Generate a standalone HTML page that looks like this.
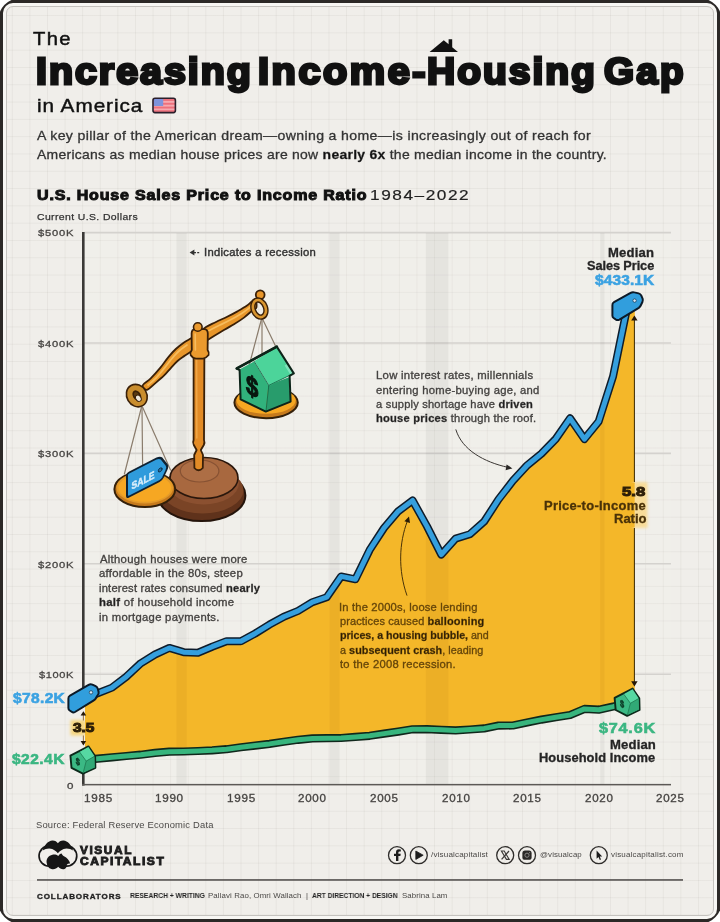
<!DOCTYPE html>
<html>
<head>
<meta charset="utf-8">
<title>The Increasing Income-Housing Gap in America</title>
<style>
html,body{margin:0;padding:0;}
body{width:720px;height:922px;overflow:hidden;background:#fff;font-family:"Liberation Sans",sans-serif;position:relative;}
#frame{position:absolute;left:0;top:0;width:720px;height:922px;}
#mat{position:absolute;left:2.8px;top:2.8px;width:714.4px;height:916.4px;background:#f7f6f3;border-radius:10px;}
#paper{position:absolute;left:6px;top:6px;width:707.6px;height:910px;box-sizing:border-box;border:1px solid #c4c2be;border-radius:7px;background-color:#f0eeea;
background-image:linear-gradient(to right,rgba(110,100,90,0.07) 1px,transparent 1px),linear-gradient(to bottom,rgba(110,100,90,0.07) 1px,transparent 1px);
background-size:17.6px 17.3px;background-position:4.8px 8.1px;}
.t{-webkit-font-smoothing:antialiased;will-change:transform;position:absolute;white-space:nowrap;line-height:1;color:#1a1a1a;transform-origin:0 0;}
.b{font-weight:bold;}
.ax{font-size:10.5px;color:#444;letter-spacing:0.7px;}
.ann{font-size:10.6px;color:#444;letter-spacing:0.35px;line-height:14.35px;white-space:nowrap;position:absolute;}
.ann b{color:#222;letter-spacing:0.1px;}
svg{position:absolute;left:0;top:0;}
</style>
</head>
<body>
<svg id="frame" width="720" height="922" viewBox="0 0 720 922"><path d="M0,11.5 Q3.6,3.6 11.5,0 H708.5 Q716.4,3.6 720,11.5 V910.5 Q716.4,918.4 708.5,922 H11.5 Q3.6,918.4 0,910.5 Z" fill="#2b2826"/></svg>
<div id="mat"></div>
<div id="paper"></div>

<!-- CHART -->
<svg id="chart" width="720" height="922" viewBox="0 0 720 922">
  <!-- plot area slightly lighter -->
  <rect x="84" y="232" width="587" height="553" fill="#f6f5f2" opacity="0.12"/>
  <!-- gridlines -->
  <g stroke="#d4d2ce" stroke-width="1.6">
    <line x1="84" y1="232.6" x2="671" y2="232.6"/>
    <line x1="84" y1="343" x2="671" y2="343"/>
    <line x1="84" y1="453.4" x2="671" y2="453.4"/>
    <line x1="84" y1="563.8" x2="671" y2="563.8"/>
    <line x1="84" y1="674.3" x2="671" y2="674.3"/>
  </g>
  <rect x="176.4" y="233" width="10.3" height="552" fill="#000" opacity="0.042"/><rect x="329.6" y="233" width="10.0" height="552" fill="#000" opacity="0.042"/><rect x="425.8" y="233" width="22.6" height="552" fill="#000" opacity="0.042"/><rect x="600.2" y="233" width="4.3" height="552" fill="#000" opacity="0.042"/>
  <!-- area fill -->
  <polygon points="83.4,698.4 97.7,693.3 112.0,687.6 126.3,676.7 140.7,663.3 155.0,654.5 169.3,647.9 183.6,652.2 197.9,652.8 212.2,646.7 226.6,641.2 240.9,641.2 255.2,633.5 269.5,624.6 283.8,616.7 298.1,610.9 312.4,602.2 326.8,597.2 341.1,576.4 355.4,579.3 369.7,549.9 384.0,528.0 398.3,511.2 412.6,500.5 427.0,526.4 441.3,554.6 455.6,538.6 469.9,534.2 484.2,521.5 498.5,499.4 512.9,480.8 527.2,465.3 541.5,453.6 555.8,438.9 570.1,418.3 584.4,439.1 598.7,421.4 613.1,376.3 627.4,306.4 634.8,306.4 634.8,702.4 627.4,702.4 613.1,706.6 598.7,709.7 584.4,708.9 570.1,715.0 555.8,717.3 541.5,719.6 527.2,722.4 512.9,725.5 498.5,725.6 484.2,728.4 469.9,729.5 455.6,730.4 441.3,729.8 427.0,729.2 412.6,729.3 398.3,731.6 384.0,733.6 369.7,735.8 355.4,736.9 341.1,738.0 326.8,738.2 312.4,738.4 298.1,739.8 283.8,741.8 269.5,743.9 255.2,745.6 240.9,747.2 226.6,749.2 212.2,750.3 197.9,751.0 183.6,751.5 169.3,751.7 155.0,752.9 140.7,754.7 126.3,756.0 112.0,757.3 97.7,758.7 83.4,760.0" fill="#f4b729"/>
  <clipPath id="fc"><polygon points="83.4,698.4 97.7,693.3 112.0,687.6 126.3,676.7 140.7,663.3 155.0,654.5 169.3,647.9 183.6,652.2 197.9,652.8 212.2,646.7 226.6,641.2 240.9,641.2 255.2,633.5 269.5,624.6 283.8,616.7 298.1,610.9 312.4,602.2 326.8,597.2 341.1,576.4 355.4,579.3 369.7,549.9 384.0,528.0 398.3,511.2 412.6,500.5 427.0,526.4 441.3,554.6 455.6,538.6 469.9,534.2 484.2,521.5 498.5,499.4 512.9,480.8 527.2,465.3 541.5,453.6 555.8,438.9 570.1,418.3 584.4,439.1 598.7,421.4 613.1,376.3 627.4,306.4 634.8,306.4 634.8,702.4 627.4,702.4 613.1,706.6 598.7,709.7 584.4,708.9 570.1,715.0 555.8,717.3 541.5,719.6 527.2,722.4 512.9,725.5 498.5,725.6 484.2,728.4 469.9,729.5 455.6,730.4 441.3,729.8 427.0,729.2 412.6,729.3 398.3,731.6 384.0,733.6 369.7,735.8 355.4,736.9 341.1,738.0 326.8,738.2 312.4,738.4 298.1,739.8 283.8,741.8 269.5,743.9 255.2,745.6 240.9,747.2 226.6,749.2 212.2,750.3 197.9,751.0 183.6,751.5 169.3,751.7 155.0,752.9 140.7,754.7 126.3,756.0 112.0,757.3 97.7,758.7 83.4,760.0"/></clipPath><g clip-path="url(#fc)"><rect x="176.4" y="233" width="10.3" height="552" fill="#5a3000" opacity="0.05"/><rect x="329.6" y="233" width="10.0" height="552" fill="#5a3000" opacity="0.05"/><rect x="425.8" y="233" width="22.6" height="552" fill="#5a3000" opacity="0.05"/><rect x="600.2" y="233" width="4.3" height="552" fill="#5a3000" opacity="0.05"/></g>
  <!-- income line -->
  <polyline points="83.4,760.0 97.7,758.7 112.0,757.3 126.3,756.0 140.7,754.7 155.0,752.9 169.3,751.7 183.6,751.5 197.9,751.0 212.2,750.3 226.6,749.2 240.9,747.2 255.2,745.6 269.5,743.9 283.8,741.8 298.1,739.8 312.4,738.4 326.8,738.2 341.1,738.0 355.4,736.9 369.7,735.8 384.0,733.6 398.3,731.6 412.6,729.3 427.0,729.2 441.3,729.8 455.6,730.4 469.9,729.5 484.2,728.4 498.5,725.6 512.9,725.5 527.2,722.4 541.5,719.6 555.8,717.3 570.1,715.0 584.4,708.9 598.7,709.7 613.1,706.6 627.4,702.4" fill="none" stroke="#10281c" stroke-width="8.2" stroke-linejoin="round" stroke-linecap="round"/>
  <polyline points="83.4,760.0 97.7,758.7 112.0,757.3 126.3,756.0 140.7,754.7 155.0,752.9 169.3,751.7 183.6,751.5 197.9,751.0 212.2,750.3 226.6,749.2 240.9,747.2 255.2,745.6 269.5,743.9 283.8,741.8 298.1,739.8 312.4,738.4 326.8,738.2 341.1,738.0 355.4,736.9 369.7,735.8 384.0,733.6 398.3,731.6 412.6,729.3 427.0,729.2 441.3,729.8 455.6,730.4 469.9,729.5 484.2,728.4 498.5,725.6 512.9,725.5 527.2,722.4 541.5,719.6 555.8,717.3 570.1,715.0 584.4,708.9 598.7,709.7 613.1,706.6 627.4,702.4" fill="none" stroke="#37b57d" stroke-width="5" stroke-linejoin="round" stroke-linecap="round"/>
  <!-- price line -->
  <polyline points="83.4,698.4 97.7,693.3 112.0,687.6 126.3,676.7 140.7,663.3 155.0,654.5 169.3,647.9 183.6,652.2 197.9,652.8 212.2,646.7 226.6,641.2 240.9,641.2 255.2,633.5 269.5,624.6 283.8,616.7 298.1,610.9 312.4,602.2 326.8,597.2 341.1,576.4 355.4,579.3 369.7,549.9 384.0,528.0 398.3,511.2 412.6,500.5 427.0,526.4 441.3,554.6 455.6,538.6 469.9,534.2 484.2,521.5 498.5,499.4 512.9,480.8 527.2,465.3 541.5,453.6 555.8,438.9 570.1,418.3 584.4,439.1 598.7,421.4 613.1,376.3 627.4,306.4" fill="none" stroke="#0e1c2b" stroke-width="8" stroke-linejoin="round" stroke-linecap="round"/>
  <polyline points="83.4,698.4 97.7,693.3 112.0,687.6 126.3,676.7 140.7,663.3 155.0,654.5 169.3,647.9 183.6,652.2 197.9,652.8 212.2,646.7 226.6,641.2 240.9,641.2 255.2,633.5 269.5,624.6 283.8,616.7 298.1,610.9 312.4,602.2 326.8,597.2 341.1,576.4 355.4,579.3 369.7,549.9 384.0,528.0 398.3,511.2 412.6,500.5 427.0,526.4 441.3,554.6 455.6,538.6 469.9,534.2 484.2,521.5 498.5,499.4 512.9,480.8 527.2,465.3 541.5,453.6 555.8,438.9 570.1,418.3 584.4,439.1 598.7,421.4 613.1,376.3 627.4,306.4" fill="none" stroke="#359fdd" stroke-width="5" stroke-linejoin="round" stroke-linecap="round"/>
  <!-- axes -->
  <rect x="82" y="232" width="2.6" height="553.6" fill="#3b3937"/>
  <rect x="82" y="783.9" width="589" height="1.5" fill="#5c5956"/>
  <!-- glow boxes behind ratio labels -->
<defs>
  <filter id="bl" x="-30%" y="-30%" width="160%" height="160%"><feGaussianBlur stdDeviation="1.4"/></filter>
</defs>
<rect x="81.4" y="706" width="3.8" height="46" fill="#f1eee9"/>
<rect x="85" y="706" width="1.2" height="46" fill="#f4b729"/>
<rect x="70.5" y="720" width="15" height="15.5" fill="#f6d680" filter="url(#bl)"/>
<rect x="85" y="720" width="11" height="15.5" fill="#f4b729"/>
<rect x="633" y="482" width="14.5" height="46" fill="#f8dc98" filter="url(#bl)"/>
<rect x="612" y="483" width="22.6" height="44" fill="#f4b729"/>

</svg>

<!-- TEXTS -->
<div class="t" id="the" style="left:33.00px;top:30.20px;font-size:18.2px;color:#111;-webkit-text-stroke:0.45px #111;letter-spacing:1.205px;transform:scaleX(1.1104);">The</div>
<div class="t" id="t1" style="left:35.71px;top:53.65px;font-size:36.2px;font-weight:bold;-webkit-text-stroke:2.8px #111;color:#111;letter-spacing:1.833px;transform:scaleX(1.0880);">Increasing</div>
<div class="t" id="t2" style="left:258.21px;top:53.65px;font-size:36.2px;font-weight:bold;-webkit-text-stroke:2.8px #111;color:#111;letter-spacing:2.325px;transform:scaleX(1.0969);">Income-</div>
<div class="t" id="t2b" style="left:426.74px;top:53.65px;font-size:36.2px;font-weight:bold;-webkit-text-stroke:2.8px #111;color:#111;letter-spacing:1.856px;transform:scaleX(1.0772);">Housing</div>
<div class="t" id="t3" style="left:604.34px;top:53.62px;font-size:36.2px;font-weight:bold;-webkit-text-stroke:2.8px #111;color:#111;letter-spacing:2.054px;transform:scaleX(1.0676);">Gap</div>
<div class="t" id="inam" style="left:36.74px;top:96.22px;font-size:19px;color:#111;-webkit-text-stroke:0.45px #111;letter-spacing:0.879px;transform:scaleX(1.0909);">in America</div>
<div class="t" id="sub1" style="left:36.95px;top:128.81px;font-size:13.4px;color:#333;-webkit-text-stroke:0.3px #333;letter-spacing:0.337px;transform:scaleX(1.0532);">A key pillar of the American dream—owning a home—is increasingly out of reach for</div>
<div class="t" id="sub2" style="left:36.96px;top:147.71px;font-size:13.4px;color:#333;-webkit-text-stroke:0.3px #333;letter-spacing:0.263px;transform:scaleX(1.0414);">Americans as median house prices are now <b style="color:#111">nearly 6x</b> the median income in the country.</div>
<div class="t" id="ct1" style="left:36.62px;top:187.81px;font-size:14.6px;font-weight:bold;-webkit-text-stroke:1px #111;color:#111;letter-spacing:0.749px;transform:scaleX(1.0977);">U.S. House Sales Price to Income Ratio</div>
<div class="t" id="ct2" style="left:369.97px;top:187.13px;font-size:15.2px;color:#222;-webkit-text-stroke:0.2px #222;letter-spacing:1.357px;transform:scaleX(1.1355);">1984–2022</div>
<div class="t" id="cur" style="left:37.20px;top:212.08px;font-size:9.6px;color:#333;-webkit-text-stroke:0.25px #333;letter-spacing:0.361px;transform:scaleX(1.0860);">Current U.S. Dollars</div>
<div class="t" id="y5" style="left:37.95px;top:228.12px;font-size:9.9px;color:#464442;-webkit-text-stroke:0.3px #464442;letter-spacing:0.691px;transform:scaleX(1.1317);">$500K</div>
<div class="t" id="y4" style="left:37.95px;top:339.07px;font-size:9.9px;color:#464442;-webkit-text-stroke:0.3px #464442;letter-spacing:0.691px;transform:scaleX(1.1317);">$400K</div>
<div class="t" id="y3" style="left:37.95px;top:449.02px;font-size:9.9px;color:#464442;-webkit-text-stroke:0.3px #464442;letter-spacing:0.691px;transform:scaleX(1.1317);">$300K</div>
<div class="t" id="y2" style="left:37.95px;top:559.65px;font-size:9.9px;color:#464442;-webkit-text-stroke:0.3px #464442;letter-spacing:0.691px;transform:scaleX(1.1317);">$200K</div>
<div class="t" id="y1" style="left:38.95px;top:669.96px;font-size:9.9px;color:#464442;-webkit-text-stroke:0.3px #464442;letter-spacing:0.566px;transform:scaleX(1.1142);">$100K</div>
<div class="t" id="y0" style="left:66.95px;top:780.58px;font-size:9.9px;color:#464442;-webkit-text-stroke:0.3px #464442;transform:scaleX(1.1699);">0</div>
<div class="t" id="x0" style="left:84.27px;top:793.81px;font-size:10.3px;color:#464442;-webkit-text-stroke:0.3px #464442;letter-spacing:0.617px;transform:scaleX(1.1378);">1985</div>
<div class="t" id="x1" style="left:155.02px;top:793.55px;font-size:10.3px;color:#464442;-webkit-text-stroke:0.3px #464442;letter-spacing:0.617px;transform:scaleX(1.1362);">1990</div>
<div class="t" id="x2" style="left:227.42px;top:793.58px;font-size:10.3px;color:#464442;-webkit-text-stroke:0.3px #464442;letter-spacing:0.617px;transform:scaleX(1.1378);">1995</div>
<div class="t" id="x3" style="left:298.33px;top:793.53px;font-size:10.3px;color:#464442;-webkit-text-stroke:0.3px #464442;letter-spacing:0.617px;transform:scaleX(1.1239);">2000</div>
<div class="t" id="x4" style="left:369.68px;top:793.56px;font-size:10.3px;color:#464442;-webkit-text-stroke:0.3px #464442;letter-spacing:0.617px;transform:scaleX(1.1236);">2005</div>
<div class="t" id="x5" style="left:442.14px;top:793.53px;font-size:10.3px;color:#464442;-webkit-text-stroke:0.3px #464442;letter-spacing:0.617px;transform:scaleX(1.1239);">2010</div>
<div class="t" id="x6" style="left:513.13px;top:793.56px;font-size:10.3px;color:#464442;-webkit-text-stroke:0.3px #464442;letter-spacing:0.617px;transform:scaleX(1.1236);">2015</div>
<div class="t" id="x7" style="left:585.29px;top:793.53px;font-size:10.3px;color:#464442;-webkit-text-stroke:0.3px #464442;letter-spacing:0.617px;transform:scaleX(1.1239);">2020</div>
<div class="t" id="x8" style="left:655.90px;top:793.55px;font-size:10.3px;color:#464442;-webkit-text-stroke:0.3px #464442;letter-spacing:0.617px;transform:scaleX(1.1236);">2025</div>
<div class="t" id="rec" style="left:204.37px;top:247.41px;font-size:10.5px;color:#333;-webkit-text-stroke:0.4px #333;letter-spacing:0.282px;transform:scaleX(1.0718);">Indicates a recession</div>
<div class="t" id="a11" style="left:99.93px;top:554.13px;font-size:10.7px;color:#444240;-webkit-text-stroke:0.32px #444240;letter-spacing:0.276px;transform:scaleX(1.0544);">Although houses were more</div>
<div class="t" id="a12" style="left:99.30px;top:568.34px;font-size:10.7px;color:#444240;-webkit-text-stroke:0.32px #444240;letter-spacing:0.259px;transform:scaleX(1.0585);">affordable in the 80s, steep</div>
<div class="t" id="a13" style="left:99.18px;top:582.62px;font-size:10.7px;color:#444240;-webkit-text-stroke:0.32px #444240;letter-spacing:0.196px;transform:scaleX(1.0434);">interest rates consumed <b style="color:#1d1d1d">nearly</b></div>
<div class="t" id="a14" style="left:98.96px;top:597.14px;font-size:10.7px;color:#444240;-webkit-text-stroke:0.32px #444240;letter-spacing:0.287px;transform:scaleX(1.0623);"><b style="color:#1d1d1d">half</b> of household income</div>
<div class="t" id="a15" style="left:99.15px;top:612.01px;font-size:10.7px;color:#444240;-webkit-text-stroke:0.32px #444240;letter-spacing:0.281px;transform:scaleX(1.0532);">in mortgage payments.</div>
<div class="t" id="a21" style="left:375.76px;top:370.40px;font-size:10.7px;color:#444240;-webkit-text-stroke:0.32px #444240;letter-spacing:0.266px;transform:scaleX(1.0600);">Low interest rates, millennials</div>
<div class="t" id="a22" style="left:376.23px;top:384.58px;font-size:10.7px;color:#444240;-webkit-text-stroke:0.32px #444240;letter-spacing:0.253px;transform:scaleX(1.0535);">entering home-buying age, and</div>
<div class="t" id="a23" style="left:376.30px;top:398.59px;font-size:10.7px;color:#444240;-webkit-text-stroke:0.32px #444240;letter-spacing:0.192px;transform:scaleX(1.0387);">a supply shortage have <b style="color:#1d1d1d">driven</b></div>
<div class="t" id="a24" style="left:375.96px;top:412.94px;font-size:10.7px;color:#444240;-webkit-text-stroke:0.32px #444240;letter-spacing:0.209px;transform:scaleX(1.0437);"><b style="color:#1d1d1d">house prices</b> through the roof.</div>
<div class="t" id="a31" style="left:339.06px;top:601.59px;font-size:10.7px;color:#66460a;-webkit-text-stroke:0.32px #66460a;letter-spacing:0.168px;transform:scaleX(1.0481);">In the 2000s, loose lending</div>
<div class="t" id="a32" style="left:340.46px;top:616.14px;font-size:10.7px;color:#66460a;-webkit-text-stroke:0.32px #66460a;letter-spacing:0.115px;transform:scaleX(1.0285);">practices caused <b style="color:#2a1c06">ballooning</b></div>
<div class="t" id="a33" style="left:340.46px;top:630.34px;font-size:10.7px;color:#66460a;-webkit-text-stroke:0.32px #66460a;letter-spacing:-0.046px;transform:scaleX(1.0023);"><b style="color:#2a1c06">prices, a housing bubble,</b> and</div>
<div class="t" id="a34" style="left:339.70px;top:644.54px;font-size:10.7px;color:#66460a;-webkit-text-stroke:0.32px #66460a;letter-spacing:0.025px;transform:scaleX(1.0131);">a <b style="color:#2a1c06">subsequent crash</b>, leading</div>
<div class="t" id="a35" style="left:340.46px;top:658.74px;font-size:10.7px;color:#66460a;-webkit-text-stroke:0.32px #66460a;letter-spacing:0.242px;transform:scaleX(1.0486);">to the 2008 recession.</div>
<div class="t" id="m1" style="left:607.86px;top:246.80px;font-size:12.6px;font-weight:bold;color:#252525;-webkit-text-stroke:0.3px #252525;letter-spacing:0.170px;transform:scaleX(1.0373);">Median</div>
<div class="t" id="m2" style="left:586.62px;top:260.41px;font-size:12.6px;font-weight:bold;color:#252525;-webkit-text-stroke:0.3px #252525;letter-spacing:-0.066px;transform:scaleX(1.0096);">Sales Price</div>
<div class="t" id="m3" style="left:595.38px;top:273.27px;font-size:14.8px;font-weight:bold;color:#3ba2e2;-webkit-text-stroke:0.6px #3ba2e2;letter-spacing:0.111px;transform:scaleX(1.0473);">$433.1K</div>
<div class="t" id="l1" style="left:13.16px;top:690.89px;font-size:14.4px;font-weight:bold;color:#3ba2e2;-webkit-text-stroke:0.6px #3ba2e2;letter-spacing:0.329px;transform:scaleX(1.0787);">$78.2K</div>
<div class="t" id="l2" style="left:11.78px;top:752.48px;font-size:14.4px;font-weight:bold;color:#3bb682;-webkit-text-stroke:0.6px #3bb682;letter-spacing:0.409px;transform:scaleX(1.0813);">$22.4K</div>
<div class="t" id="r35" style="left:72.87px;top:721.87px;font-size:12.6px;font-weight:bold;color:#2e1f08;-webkit-text-stroke:1px #2e1f08;transform:scaleX(1.2258);">3.5</div>
<div class="t" id="r58" style="left:622.14px;top:485.60px;font-size:12.6px;font-weight:bold;color:#2e1f08;-webkit-text-stroke:1px #2e1f08;transform:scaleX(1.3216);">5.8</div>
<div class="t" id="r1" style="left:544.49px;top:499.59px;font-size:12.3px;font-weight:bold;color:#4a3208;-webkit-text-stroke:0.3px #4a3208;letter-spacing:0.257px;transform:scaleX(1.0531);">Price-to-Income</div>
<div class="t" id="r2" style="left:614.04px;top:512.89px;font-size:12.3px;font-weight:bold;color:#4a3208;-webkit-text-stroke:0.3px #4a3208;letter-spacing:-0.042px;transform:scaleX(1.0611);">Ratio</div>
<div class="t" id="i1" style="left:599.25px;top:721.24px;font-size:14.6px;font-weight:bold;color:#3bb682;-webkit-text-stroke:0.6px #3bb682;letter-spacing:0.688px;transform:scaleX(1.1116);">$74.6K</div>
<div class="t" id="i2" style="left:609.71px;top:739.40px;font-size:12.6px;font-weight:bold;color:#252525;-webkit-text-stroke:0.3px #252525;letter-spacing:0.140px;transform:scaleX(1.0407);">Median</div>
<div class="t" id="i3" style="left:538.88px;top:752.40px;font-size:12.6px;font-weight:bold;color:#252525;-webkit-text-stroke:0.3px #252525;letter-spacing:0.068px;transform:scaleX(1.0215);">Household Income</div>
<div class="t" id="src" style="left:35.74px;top:820.58px;font-size:9px;color:#4a4846;letter-spacing:0.181px;transform:scaleX(1.0432);">Source: Federal Reserve Economic Data</div>
<div class="t" id="vc1" style="left:80.40px;top:846.41px;font-size:10.2px;font-weight:bold;color:#222;-webkit-text-stroke:0.8px #1c1c1c;letter-spacing:1.376px;transform:scaleX(1.1610);">VISUAL</div>
<div class="t" id="vc2" style="left:80.40px;top:856.57px;font-size:10.2px;font-weight:bold;color:#222;-webkit-text-stroke:0.8px #1c1c1c;letter-spacing:1.288px;transform:scaleX(1.1829);">CAPITALIST</div>
<div class="t" id="col" style="left:37.47px;top:892.84px;font-size:8px;font-weight:bold;color:#222;-webkit-text-stroke:0.35px #222;letter-spacing:0.923px;">COLLABORATORS</div>
<div class="t" id="c1" style="left:129.98px;top:892.00px;font-size:7.6px;font-weight:bold;color:#222;transform:scaleX(0.8893);">RESEARCH + WRITING</div>
<div class="t" id="c2" style="left:208.30px;top:892.07px;font-size:7.6px;color:#4a4846;letter-spacing:0.098px;transform:scaleX(1.0358);">Pallavi Rao, Omri Wallach</div>
<div class="t" id="c3" style="left:306.00px;top:892.07px;font-size:7.6px;color:#4a4846;">|</div>
<div class="t" id="c4" style="left:312.00px;top:891.98px;font-size:7.6px;font-weight:bold;color:#222;transform:scaleX(0.8806);">ART DIRECTION + DESIGN</div>
<div class="t" id="c5" style="left:402.08px;top:892.28px;font-size:7.6px;color:#4a4846;letter-spacing:0.093px;transform:scaleX(1.0320);">Sabrina Lam</div>
<div class="t" id="s1" style="left:431.00px;top:851.17px;font-size:7.6px;color:#4a4846;letter-spacing:0.142px;transform:scaleX(1.0653);">/visualcapitalist</div>
<div class="t" id="s2" style="left:540.00px;top:851.17px;font-size:7.6px;color:#4a4846;letter-spacing:0.103px;transform:scaleX(1.0358);">@visualcap</div>
<div class="t" id="s3" style="left:611.00px;top:851.17px;font-size:7.6px;color:#4a4846;letter-spacing:0.182px;transform:scaleX(1.0504);">visualcapitalist.com</div>

<!-- OVERLAY -->
<svg id="ov" width="720" height="922" viewBox="0 0 720 922">
<g id="scale" stroke-linejoin="round" stroke-linecap="round">
  <!-- base -->
  <ellipse cx="201.7" cy="495.5" rx="43.7" ry="25.5" fill="#5f321b" stroke="#24140b" stroke-width="2"/>
  <ellipse cx="202.5" cy="490" rx="41" ry="23.5" fill="#7a4426"/>
  <ellipse cx="203.5" cy="483" rx="35.5" ry="21.5" fill="#8b5030"/>
  <ellipse cx="204" cy="478" rx="34" ry="20.5" fill="#a8683f" stroke="#2a170c" stroke-width="1.6"/>
  <ellipse cx="199.6" cy="471" rx="19.3" ry="11" fill="#ad6e45" stroke="#875233" stroke-width="1.2"/>
  <!-- post -->
  <path d="M193.6,350 L193.6,440 Q192.4,442.5 193.8,445 L196.6,450 L194.2,455 L194.4,468 Q198.5,472.5 202.8,468 L203,455 L200.8,450 L203.8,445 Q205,442.5 204,440 L204.4,350 Z" fill="#e28b26" stroke="#3a2008" stroke-width="1.8"/>
  <path d="M196.6,358 L196.8,438" stroke="#f0a646" stroke-width="1.6" fill="none"/>
  <!-- left strings -->
  <g stroke="#8a7c6c" stroke-width="1.2" fill="none">
    <line x1="141.5" y1="407" x2="124.4" y2="474"/>
    <line x1="142" y1="407" x2="142.6" y2="465"/>
    <line x1="142.5" y1="407" x2="170.5" y2="470"/>
  </g>
  <!-- left pan -->
  <ellipse cx="144.8" cy="489.2" rx="30.4" ry="17.8" fill="#c67a1c" stroke="#34200a" stroke-width="2"/>
  <ellipse cx="144.8" cy="487.6" rx="28.4" ry="15.8" fill="#e39a2a"/>
  <ellipse cx="144.8" cy="487.8" rx="26.4" ry="14" fill="#f6a722"/>
  <!-- sale tag -->
  <g transform="translate(127,473.6) skewY(-27)">
    <path d="M0,2.2 Q0,0 2.2,0 L29.5,0 Q32.6,0 34.6,2.6 L39.6,11.4 Q41,14 39.4,16.6 L36,22.2 Q34.8,24 32.6,24 L2.2,24 Q0,24 0,21.8 Z" fill="#2f9bdc" stroke="#0f2233" stroke-width="2"/>
    <circle cx="33.2" cy="13.2" r="1.9" fill="#1e6fa8" stroke="#0f2233" stroke-width="0.7"/>
    <text x="4.6" y="18.6" font-family="Liberation Sans, sans-serif" font-weight="bold" font-size="10.6" fill="#d8eefb" stroke="#d8eefb" stroke-width="0.4" textLength="23" lengthAdjust="spacingAndGlyphs">SALE</text>
  </g>
  <!-- right strings -->
  <g stroke="#8a7c6c" stroke-width="1.2" fill="none">
    <line x1="261.5" y1="319" x2="249" y2="366"/>
    <line x1="262" y1="319" x2="262" y2="354"/>
    <line x1="262.5" y1="319" x2="276" y2="347"/>
  </g>
  <!-- right pan -->
  <ellipse cx="266.1" cy="402.6" rx="31.7" ry="15.6" fill="#c67a1c" stroke="#34200a" stroke-width="2"/>
  <ellipse cx="266.1" cy="400.4" rx="29.6" ry="13.4" fill="#f6a722"/>
  <!-- house -->
  <g stroke="none">
    <path d="M239.4,369.6 L254,361.6 L268.4,385 L265.8,411.6 L240.6,399.4 Z" fill="#31b27c"/>
    <path d="M268.4,385 L289,377.2 L290.6,401.6 L265.8,411.6 Z" fill="#289c6c"/>
    <path d="M254.4,361 L276.8,347 L293.6,373.4 L269.4,385.8 Z" fill="#4cd49a"/>
    <path d="M287.4,364 L290.4,368.6 L293.6,373.4 L290.6,375 L284.6,365.6 Z" fill="#7fe3bb"/>
  </g>
  <g fill="none" stroke="#176b49" stroke-width="0.9">
    <path d="M254.2,361.4 L268.8,385.4 L266,411"/>
    <path d="M268.8,385.4 L291.6,374.4"/>
  </g>
  <path d="M236.6,368.6 L276.8,346.6 L293.8,373.4 L289.6,375.8 L290.6,401.6 L265.8,411.6 L240.6,399.4 L239.6,370 Z" fill="none" stroke="#0d2419" stroke-width="2"/>
  <path d="M236.8,368.4 L276.8,346.6" fill="none" stroke="#0d2419" stroke-width="2.6"/>
  <g transform="translate(252.2,386.2) skewY(26)"><text x="0" y="9.6" text-anchor="middle" font-family="Liberation Sans, sans-serif" font-weight="bold" font-size="27" fill="#08150e" stroke="#08150e" stroke-width="1.2" transform="scale(0.82,1)">$</text></g>
  <!-- beam -->
  <path d="M142.6,385.4 C143.2,383.5 147.5,381.6 150.5,378.6 C153.5,375.6 157.5,371.1 160.4,367.6 C163.3,364.1 165.4,360.7 168.0,357.6 C170.6,354.5 173.1,351.5 175.8,349.0 C178.5,346.5 181.3,344.3 184.0,342.4 C186.7,340.5 189.5,339.4 192.0,337.8 C194.5,336.2 196.7,334.8 199.0,333.0 C201.3,331.2 203.2,328.8 206.0,327.0 C208.8,325.2 212.6,323.7 216.0,322.0 C219.4,320.3 223.2,318.7 226.7,317.0 C230.2,315.3 233.7,313.5 237.0,311.6 C240.3,309.7 243.7,307.8 246.7,305.8 C249.7,303.8 253.4,299.1 255.0,299.4 C256.6,299.7 256.8,305.8 256.4,307.6 C256.0,309.4 254.7,308.5 252.6,310.2 C250.5,311.9 247.1,315.3 244.0,317.6 C240.9,319.9 237.3,322.2 234.0,324.2 C230.7,326.2 228.7,327.2 224.4,329.8 C220.1,332.4 212.2,337.1 208.0,339.8 C203.8,342.5 201.6,344.2 199.0,346.0 C196.4,347.8 194.5,349.2 192.2,350.8 C189.9,352.4 187.4,353.9 185.0,355.6 C182.6,357.3 180.1,358.8 177.8,360.8 C175.5,362.8 173.2,365.4 171.0,367.8 C168.8,370.2 166.9,372.7 164.4,375.2 C161.9,377.7 158.9,380.2 156.0,382.6 C153.1,385.0 149.2,389.3 147.0,389.8 C144.8,390.3 142.0,387.3 142.6,385.4 Z" fill="#e8962a" stroke="#3a2008" stroke-width="1.8"/>
  <path d="M148.0,385.0 C149.3,383.8 153.2,380.9 156.0,378.0 C158.8,375.1 162.3,370.6 165.0,367.4 C167.7,364.1 169.7,361.2 172.0,358.5 C174.3,355.8 176.5,353.2 179.0,351.0 C181.5,348.8 185.7,346.0 187.0,345.0" fill="none" stroke="#f7bc5c" stroke-width="1.8"/>
  <path d="M209.0,330.5 C210.8,329.6 216.3,326.8 220.0,325.0 C223.7,323.2 227.3,321.5 231.0,319.5 C234.7,317.5 238.7,315.3 242.0,313.2 C245.3,311.1 249.5,307.7 251.0,306.6" fill="none" stroke="#f7bc5c" stroke-width="1.8"/>
  <!-- right knob + ring -->
  <circle cx="260.2" cy="294.8" r="4.4" fill="#e8962a" stroke="#3a2008" stroke-width="1.8"/>
  <ellipse cx="259.4" cy="308.6" rx="6.2" ry="8.8" transform="rotate(-20 259.4 308.6)" fill="none" stroke="#3a2008" stroke-width="5.4"/>
  <ellipse cx="259.4" cy="308.6" rx="6.2" ry="8.8" transform="rotate(-20 259.4 308.6)" fill="none" stroke="#d8952f" stroke-width="2.6"/>
  <!-- left ring -->
  <ellipse cx="136.8" cy="395.6" rx="6.6" ry="8.2" transform="rotate(-30 136.8 395.6)" fill="#5a3a12" stroke="#3a2008" stroke-width="8.4"/>
  <ellipse cx="136.8" cy="395.6" rx="6.6" ry="8.2" transform="rotate(-30 136.8 395.6)" fill="none" stroke="#c98d2d" stroke-width="5.2"/>
  <ellipse cx="138.4" cy="398.2" rx="2.6" ry="3.4" transform="rotate(-30 138.4 398.2)" fill="#efe9df" stroke="#3a2008" stroke-width="1"/>
  <!-- centre block -->
  <path d="M191.6,333.6 Q191.6,329.6 195,329.2 L204.4,329.2 Q207.8,329.6 207.8,333.6 L207.6,350 Q209.4,352.6 208.6,355 Q206,358.2 203,358.6 L196,358.6 Q192.6,358.2 190.6,355 Q189.8,352.6 191.8,350 Z" fill="#eb9a2e" stroke="#3a2008" stroke-width="1.8"/>
  <circle cx="197.8" cy="327" r="4.3" fill="#eb9a2e" stroke="#3a2008" stroke-width="1.6"/>
  <path d="M195.2,334 L195.4,350" stroke="#f7bd60" stroke-width="1.6" fill="none"/>
</g>

<!-- ratio arrows -->
<g fill="#241708" stroke="none">
  <line x1="83.4" y1="714" x2="83.4" y2="720.5" stroke="#9a7a4a" stroke-width="1.1"/>
  <line x1="83.4" y1="735.5" x2="83.4" y2="742" stroke="#9a7a4a" stroke-width="1.1"/>
  <path d="M83.4,711.2 L86.2,715.6 L80.6,715.6 Z"/>
  <path d="M83.4,745.4 L86.2,741 L80.6,741 Z"/>
  <line x1="634.4" y1="320" x2="634.4" y2="482" stroke="#3a2a08" stroke-width="1"/>
  <line x1="634.4" y1="528" x2="634.4" y2="682" stroke="#3a2a08" stroke-width="1"/>
  <path d="M634.4,315.4 L637.6,320.6 L631.2,320.6 Z"/>
  <path d="M634.4,686.4 L637.6,681.2 L631.2,681.2 Z"/>
</g>

<!-- blue price tags -->
<g stroke="#0c1a28" stroke-width="2" stroke-linejoin="round">
  <path d="M68.4,698.6 Q68.2,696.6 70,695.6 L88.6,684.8 Q90.4,683.8 92.4,684.6 L95.6,686.2 Q97.2,687 97.8,688.8 L98.6,692 Q99,694 97.6,695.4 L95.6,698.6 Q94.8,699.8 93.4,700.6 L75,712 Q73.2,713 71.6,711.8 L69.4,710.2 Q68.4,709.4 68.4,708 Z" fill="#319edd"/>
  <path d="M612.4,305.2 Q612.2,303.2 614,302.2 L630.6,292.8 Q632.4,291.8 634.4,292.4 L638.6,293.4 Q640.4,293.8 641.2,295.4 L642.6,298.6 Q643.2,300.4 642.4,302 L640.6,305.8 Q640,307 638.8,307.8 L619.4,319.6 Q617.6,320.6 616,319.6 L613.6,318 Q612.4,317.2 612.4,315.8 Z" fill="#319edd"/>
</g>
<circle cx="91" cy="692.4" r="1.7" fill="#d8ecfa" stroke="#17324a" stroke-width="0.7"/>
<circle cx="634.6" cy="300.6" r="1.7" fill="#d8ecfa" stroke="#17324a" stroke-width="0.7"/>

<!-- green mini houses -->
<g stroke-linejoin="round">
  <path d="M70.4,755.6 L88.4,746.4 L95.1,756.1 L95.4,767.8 L82.9,773.6 L71.5,767.8 Z" fill="#3bb984" stroke="#0c2a1b" stroke-width="1.9"/>
  <path d="M79.6,752 L88.4,747 L94.4,756.1 L86.2,761.1 Z" fill="#56d8a2"/>
  <path d="M86.2,761.1 L94.5,756.6 L94.8,767.4 L83.2,772.8 Z" fill="#31a976"/>
  <path d="M79.6,752 L86.2,761.1 L83.2,772.8 M86.2,761.1 L94.4,756.4" fill="none" stroke="#1e7a52" stroke-width="0.8"/>
  <text x="0" y="0" transform="translate(77.9,762.4) skewY(24) scale(0.78,1)" text-anchor="middle" font-family="Liberation Sans, sans-serif" font-weight="bold" font-size="9.6" fill="#0c3a25" stroke="#0c3a25" stroke-width="0.5" dominant-baseline="middle" stroke-linejoin="round">$</text>
</g>
<g transform="translate(544.2,-57.8)" stroke-linejoin="round">
  <path d="M70.4,755.6 L88.4,746.4 L95.1,756.1 L95.4,767.8 L82.9,773.6 L71.5,767.8 Z" fill="#3bb984" stroke="#0c2a1b" stroke-width="1.9"/>
  <path d="M79.6,752 L88.4,747 L94.4,756.1 L86.2,761.1 Z" fill="#56d8a2"/>
  <path d="M86.2,761.1 L94.5,756.6 L94.8,767.4 L83.2,772.8 Z" fill="#31a976"/>
  <path d="M79.6,752 L86.2,761.1 L83.2,772.8 M86.2,761.1 L94.4,756.4" fill="none" stroke="#1e7a52" stroke-width="0.8"/>
  <text x="0" y="0" transform="translate(77.9,762.4) skewY(24) scale(0.78,1)" text-anchor="middle" font-family="Liberation Sans, sans-serif" font-weight="bold" font-size="9.6" fill="#0c3a25" stroke="#0c3a25" stroke-width="0.5" dominant-baseline="middle" stroke-linejoin="round">$</text>
</g>

<!-- curved annotation arrows -->
<g fill="none" stroke="#3a3633" stroke-width="1">
  <path d="M455.8,429.4 C462,450 484,462 508,467.4"/>
</g>
<path d="M512.4,468.4 L506.6,464.4 L505.6,470.2 Z" fill="#2a2725"/>
<path d="M407,595.6 C398,570 399,543 407.4,521" fill="none" stroke="#4a3308" stroke-width="1"/>
<path d="M409,516.6 L404.4,521.2 L410,523 Z" fill="#2a1c06"/>

<!-- recession arrow -->
<path d="M189.6,252.6 L194.4,249.6 L194.4,255.6 Z" fill="#333"/>
<line x1="194" y1="252.6" x2="200.4" y2="252.6" stroke="#333" stroke-width="1.2" stroke-dasharray="2,1.2"/>

<!-- flag -->
<g>
  <rect x="153" y="98.2" width="22.4" height="14.4" rx="2" fill="#f6a9b0"/>
  <g fill="#ee707c">
    <rect x="153.6" y="99" width="21.4" height="1.9"/>
    <rect x="153.6" y="102.8" width="21.4" height="1.9"/>
    <rect x="153.6" y="106.6" width="21.4" height="1.9"/>
    <rect x="153.6" y="110.2" width="21.4" height="1.7"/>
  </g>
  <rect x="153.6" y="99" width="9.6" height="7" fill="#7f93dc"/>
  <rect x="153" y="98.2" width="22.4" height="14.4" rx="2" fill="none" stroke="#2b1f2b" stroke-width="1.6"/>
</g>

<!-- roof over the H -->
<path d="M429.6,52 L443.8,40.2 L448.6,44.2 L448.6,39.2 L452.2,39.2 L452.2,47.2 L458,52 Z" fill="#111"/>

<!-- footer rule -->
<rect x="37" y="879.2" width="646" height="1.5" fill="#4b4846"/>

<!-- VC logo -->
<g id="vclogo">
  <circle cx="49.2" cy="856" r="11" fill="#161616"/><circle cx="66.6" cy="856" r="11" fill="#161616"/>
  <circle cx="49.2" cy="856" r="9.3" fill="#f0eeea"/><circle cx="66.6" cy="856" r="9.3" fill="#f0eeea"/>
  <path d="M42.6,850.6 C44.5,845 48,840.6 52.4,840.4 C55,840.3 56.8,841.6 57.9,843.2 C59,841.6 60.8,840.3 63.4,840.4 C67.8,840.6 71.3,845 73.2,850.6 C70.5,848.6 66.5,847.9 63.6,849 C61,850 59.2,851.8 57.9,853.2 C56.6,851.8 54.8,850 52.2,849 C49.3,847.9 45.3,848.6 42.6,850.6 Z" fill="#161616"/>
  <path d="M46.6,862.4 C46.2,858.8 48.6,855.6 52.4,854.8 C54.6,854.3 56.6,854.8 58.2,856 C59,854.6 60.2,853.6 61.6,853.4 C62,854.6 62.8,855.6 64,856.2 C67,857.6 69.4,860.4 70.2,863.6 C68.8,863.4 67.6,863.8 66.8,864.8 C67,866.6 66.2,868.2 64.6,869 C62.2,869.6 59.8,868.8 58.2,866.8 C56.6,868.8 54,869.6 51.4,869 C48.6,868.2 46.9,865.6 46.6,862.4 Z" fill="#161616"/>
</g>

<!-- social icons -->
<g fill="none" stroke="#2f2d2b" stroke-width="1.3">
  <circle cx="397" cy="855.2" r="8.5"/>
  <circle cx="418.8" cy="855.2" r="8.5"/>
  <circle cx="505.2" cy="855.2" r="8.5"/>
  <circle cx="527" cy="855.2" r="8.5"/>
  <circle cx="598.8" cy="855.2" r="8.5"/>
</g>
<path d="M398.4,861 L398.4,856 L400.4,856 L400.7,853.8 L398.4,853.8 L398.4,852.5 Q398.4,851.4 399.6,851.4 L400.8,851.4 L400.8,849.5 Q399.8,849.3 398.9,849.3 Q396,849.3 396,852.2 L396,853.8 L394,853.8 L394,856 L396,856 L396,861 Z" fill="#1c1c1c"/>
<path d="M415.8,851 L423.2,855.2 L415.8,859.4 Z" fill="#1c1c1c" stroke="#1c1c1c" stroke-width="0.8" stroke-linejoin="round"/>
<path d="M501.4,851 L504.2,851 L509.2,859.4 L506.4,859.4 Z" fill="none" stroke="#3a3836" stroke-width="1.1"/>
<path d="M509,851 L501.6,859.4" fill="none" stroke="#3a3836" stroke-width="1.2"/>
<rect x="522.4" y="850.6" width="9.2" height="9.2" rx="2.6" fill="#2a2826"/>
<circle cx="527" cy="855.2" r="2.1" fill="none" stroke="#8a8886" stroke-width="1"/>
<circle cx="529.6" cy="852.6" r="0.6" fill="#8a8886"/>
<path d="M596.6,850.6 L596.6,858.8 L598.5,857.1 L599.8,860 L601,859.5 L599.8,856.6 L602.2,856.4 Z" fill="#1c1c1c"/>

</svg>

</body>
</html>
